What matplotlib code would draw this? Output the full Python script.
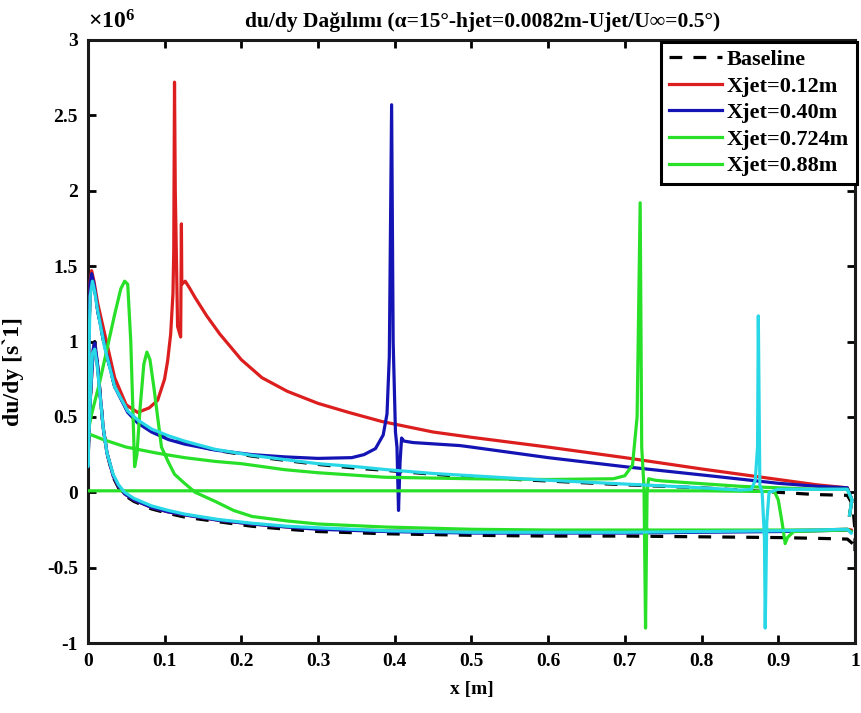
import matplotlib
matplotlib.use("Agg")
import matplotlib.pyplot as plt
from matplotlib.ticker import FuncFormatter, FixedLocator

plt.rcParams['font.family'] = ['Liberation Serif', 'DejaVu Serif']
plt.rcParams['font.weight'] = 'bold'
plt.rcParams['mathtext.fontset'] = 'custom'
plt.rcParams['mathtext.rm'] = 'Liberation Serif'
plt.rcParams['mathtext.default'] = 'rm'

SCALE = 1e6  # du/dy values below are in units of 1e6 s^-1

# ---- Baseline (no jet) ----
base_up_x = [0.0, 0.001, 0.003, 0.005, 0.008, 0.013, 0.022, 0.035, 0.052, 0.065, 0.083, 0.105,
             0.126, 0.166, 0.214, 0.26, 0.30, 0.35, 0.39, 0.45, 0.5, 0.6, 0.7, 0.8, 0.9, 0.95,
             0.99, 0.997, 1.0, 1.0]
base_up_y = [0.17, 0.9, 1.38, 1.45, 1.38, 1.2, 0.96, 0.70, 0.54, 0.47, 0.41, 0.365,
             0.33, 0.28, 0.24, 0.21, 0.185, 0.16, 0.145, 0.12, 0.10, 0.075, 0.05, 0.03, 0.0, -0.015,
             -0.02, -0.08, -0.25, -0.39]
base_lo_x = [0.0, 0.003, 0.007, 0.009, 0.012, 0.016, 0.020, 0.025, 0.033, 0.040, 0.048, 0.06,
             0.083, 0.105, 0.127, 0.17, 0.214, 0.26, 0.30, 0.39, 0.5, 0.6, 0.7, 0.8, 0.9, 0.95,
             0.99, 0.997]
base_lo_y = [0.17, 0.6, 0.95, 1.0, 0.88, 0.66, 0.43, 0.26, 0.10, 0.03, -0.02, -0.06,
             -0.11, -0.14, -0.165, -0.195, -0.225, -0.245, -0.26, -0.275, -0.285, -0.29, -0.29,
             -0.295, -0.30, -0.305, -0.31, -0.34]

# ---- Xjet = 0.12 m ----
r_up_x = [0.0, 0.001, 0.003, 0.005, 0.008, 0.013, 0.022, 0.035, 0.05, 0.065, 0.08, 0.091, 0.1,
          0.104, 0.108, 0.111, 0.112, 0.113, 0.114, 0.117, 0.121, 0.122, 0.1225, 0.127, 0.132,
          0.14, 0.155, 0.172, 0.2, 0.227, 0.26, 0.30, 0.34, 0.383, 0.45, 0.5, 0.6, 0.7, 0.8,
          0.9, 0.95, 0.99, 0.996, 0.993]
r_up_y = [0.17, 0.9, 1.4, 1.47, 1.40, 1.25, 1.05, 0.76, 0.58, 0.53, 0.56, 0.61, 0.75,
          0.87, 1.05, 1.32, 1.6, 2.72, 2.0, 1.1, 1.03, 1.78, 1.38, 1.40, 1.36,
          1.29, 1.17, 1.05, 0.88, 0.76, 0.67, 0.59, 0.53, 0.47, 0.40, 0.365, 0.30, 0.23, 0.155,
          0.085, 0.05, 0.03, -0.05, -0.15]
r_lo_x = [0.0, 0.003, 0.007, 0.009, 0.012, 0.016, 0.020, 0.025, 0.033, 0.040, 0.048, 0.06,
          0.083, 0.105, 0.127, 0.17, 0.214, 0.26, 0.30, 0.39, 0.5, 0.6, 0.7, 0.8, 0.9, 0.95,
          0.99, 0.995]
r_lo_y = [0.17, 0.6, 0.94, 0.98, 0.87, 0.65, 0.43, 0.26, 0.11, 0.04, -0.01, -0.05,
          -0.10, -0.13, -0.15, -0.185, -0.21, -0.23, -0.24, -0.255, -0.265, -0.265, -0.265,
          -0.26, -0.255, -0.25, -0.245, -0.25]

# ---- Xjet = 0.40 m ----
b_up_x = [0.0, 0.001, 0.003, 0.005, 0.008, 0.013, 0.022, 0.035, 0.052, 0.065, 0.083, 0.105,
          0.126, 0.166, 0.214, 0.257, 0.30, 0.344, 0.36, 0.375, 0.385, 0.39, 0.393, 0.396,
          0.398, 0.401, 0.403, 0.405, 0.407, 0.409, 0.412, 0.424, 0.485, 0.5, 0.6, 0.7, 0.81,
          0.9, 0.95, 0.99, 0.996, 0.993]
b_up_y = [0.17, 0.9, 1.38, 1.45, 1.38, 1.2, 0.97, 0.70, 0.53, 0.46, 0.40, 0.35,
          0.32, 0.28, 0.25, 0.235, 0.225, 0.23, 0.25, 0.29, 0.38, 0.52, 0.9, 2.57,
          1.0, 0.4, 0.3, -0.12, 0.2, 0.36, 0.34, 0.33, 0.31, 0.30, 0.23, 0.17, 0.11,
          0.06, 0.04, 0.03, -0.05, -0.15]
b_lo_x = [0.0, 0.003, 0.007, 0.009, 0.012, 0.016, 0.020, 0.025, 0.033, 0.040, 0.048, 0.06,
          0.083, 0.105, 0.127, 0.17, 0.214, 0.26, 0.30, 0.39, 0.5, 0.6, 0.7, 0.8, 0.9, 0.95,
          0.99, 0.995]
b_lo_y = [0.17, 0.6, 0.95, 0.99, 0.88, 0.65, 0.43, 0.26, 0.11, 0.04, -0.01, -0.05,
          -0.10, -0.13, -0.15, -0.185, -0.21, -0.23, -0.245, -0.26, -0.27, -0.27, -0.27,
          -0.265, -0.26, -0.255, -0.25, -0.26]

# ---- Xjet = 0.724 m ----
g1_up_x = [0.0, 0.02, 0.05, 0.09, 0.126, 0.166, 0.2, 0.257, 0.3, 0.387, 0.5, 0.6, 0.685,
           0.70, 0.71, 0.716, 0.72, 0.722, 0.725, 0.727, 0.729, 0.731, 0.74, 0.75, 0.85,
           0.95, 0.99, 0.996, 0.993]
g1_up_y = [0.39, 0.35, 0.30, 0.26, 0.23, 0.205, 0.19, 0.15, 0.13, 0.10, 0.09, 0.085, 0.09,
           0.11, 0.18, 0.5, 1.92, 0.3, 0.03, -0.9, 0.0, 0.09, 0.08, 0.075, 0.04,
           0.02, 0.02, -0.05, -0.15]
g1_lo_x = [0.0, 0.005, 0.015, 0.025, 0.035, 0.043, 0.048, 0.052, 0.056, 0.059, 0.061, 0.064,
           0.068, 0.073, 0.077, 0.081, 0.086, 0.091, 0.096, 0.105, 0.113, 0.126, 0.14, 0.166,
           0.19, 0.214, 0.26, 0.30, 0.387, 0.5, 0.6, 0.7, 0.8, 0.9, 0.95, 0.99, 0.995]
g1_lo_y = [0.39, 0.52, 0.72, 0.95, 1.18, 1.35, 1.40, 1.38, 1.0, 0.5, 0.17, 0.25,
           0.55, 0.85, 0.93, 0.88, 0.7, 0.5, 0.30, 0.2, 0.12, 0.06, 0.0, -0.06,
           -0.12, -0.16, -0.19, -0.21, -0.23, -0.245, -0.25, -0.25, -0.25, -0.25, -0.25,
           -0.245, -0.26]

# ---- Xjet = 0.88 m ----
g2_x = [0.0, 0.2, 0.4, 0.6, 0.8, 0.895, 0.90, 0.905, 0.909, 0.912, 0.92, 0.95, 0.99]
g2_y = [0.01, 0.01, 0.01, 0.01, 0.01, 0.005, -0.05, -0.2, -0.34, -0.30, -0.26, -0.255, -0.25]

# ---- jet case drawn in cyan ----
c_up_x = [0.0, 0.001, 0.003, 0.006, 0.009, 0.013, 0.022, 0.035, 0.052, 0.065, 0.083, 0.105,
          0.126, 0.166, 0.214, 0.26, 0.30, 0.35, 0.39, 0.45, 0.5, 0.6, 0.7, 0.8, 0.85, 0.865,
          0.870, 0.873, 0.874, 0.876, 0.879, 0.882, 0.883, 0.885, 0.888, 0.9, 0.95, 0.99,
          0.996, 0.993]
c_up_y = [0.17, 0.8, 1.3, 1.40, 1.33, 1.2, 0.96, 0.70, 0.54, 0.48, 0.42, 0.375,
          0.34, 0.285, 0.245, 0.215, 0.19, 0.17, 0.15, 0.125, 0.11, 0.08, 0.055, 0.03, 0.015,
          0.02, 0.08, 0.3, 1.17, 0.05, 0.0, -0.3, -0.90, -0.2, 0.0, 0.02, 0.02, 0.02,
          -0.05, -0.15]
c_lo_x = [0.0, 0.003, 0.006, 0.009, 0.012, 0.016, 0.020, 0.025, 0.033, 0.04, 0.048, 0.06,
          0.083, 0.105, 0.127, 0.17, 0.214, 0.26, 0.30, 0.39, 0.5, 0.6, 0.7, 0.8, 0.9, 0.95,
          0.99, 0.995]
c_lo_y = [0.17, 0.6, 0.92, 0.95, 0.85, 0.64, 0.43, 0.26, 0.12, 0.05, 0.0, -0.04,
          -0.09, -0.12, -0.145, -0.18, -0.205, -0.225, -0.235, -0.255, -0.265, -0.265, -0.265,
          -0.26, -0.255, -0.25, -0.245, -0.27]

labels = ['Baseline', 'Xjet=0.12m', 'Xjet=0.40m', 'Xjet=0.724m', 'Xjet=0.88m']
C_RED, C_BLUE, C_GREEN, C_CYAN = '#dc1e1e', '#1414b4', '#28e028', '#28d8e6'


def loop(ux, uy, lx, ly):
    """Closed surface trace: upper surface from TE to LE, then lower surface LE to TE."""
    xs = list(reversed(ux)) + list(lx)
    ys = [v * SCALE for v in reversed(uy)] + [v * SCALE for v in ly]
    return xs, ys


fig = plt.figure(figsize=(8.61, 7.13), dpi=100)
ax = fig.add_axes([0.102, 0.098, 0.891, 0.846])

lw = 2.3
x, y = loop(base_up_x, base_up_y, base_lo_x, base_lo_y)
ax.plot(x, y, color='black', lw=lw, dashes=(4, 3.5), label=labels[0], zorder=2)
x, y = loop(r_up_x, r_up_y, r_lo_x, r_lo_y)
ax.plot(x, y, color=C_RED, lw=lw, label=labels[1], zorder=3)
x, y = loop(b_up_x, b_up_y, b_lo_x, b_lo_y)
ax.plot(x, y, color=C_BLUE, lw=lw, label=labels[2], zorder=4)
x, y = loop(g1_up_x, g1_up_y, g1_lo_x, g1_lo_y)
ax.plot(x, y, color=C_GREEN, lw=lw, label=labels[3], zorder=5)
ax.plot(g2_x, [v * SCALE for v in g2_y], color=C_GREEN, lw=lw, label=labels[4], zorder=5)
x, y = loop(c_up_x, c_up_y, c_lo_x, c_lo_y)
ax.plot(x, y, color=C_CYAN, lw=lw, zorder=6)

ax.set_xlim(0, 1)
ax.set_ylim(-1 * SCALE, 3 * SCALE)
ax.xaxis.set_major_locator(FixedLocator([i / 10 for i in range(11)]))
ax.yaxis.set_major_locator(FixedLocator([v * SCALE for v in [-1, -0.5, 0, 0.5, 1, 1.5, 2, 2.5, 3]]))
ax.xaxis.set_major_formatter(FuncFormatter(lambda v, p: '%g' % round(v, 2)))
ax.yaxis.set_major_formatter(FuncFormatter(lambda v, p: '%g' % (v / SCALE)))
ax.tick_params(direction='in', length=6, width=2, top=True, right=True,
               labelsize=14, pad=7)
for lab in ax.get_xticklabels() + ax.get_yticklabels():
    lab.set_fontweight('bold')
for s in ax.spines.values():
    s.set_linewidth(2.2)
    s.set_color('#1a1a1a')

ax.text(0.0, 1.01, r'$\times10^{6}$', transform=ax.transAxes, ha='left', va='bottom',
        fontsize=17, fontweight='normal')
ax.set_title('du/dy Dağılımı (α=15°-hjet=0.0082m-Ujet/U∞=0.5°)', fontsize=15.5,
             fontweight='bold', pad=9, x=0.514)
ax.set_xlabel('x [m]', fontsize=14, fontweight='bold', labelpad=8)
ax.set_ylabel('du/dy [s`1]', fontsize=17, fontweight='bold', labelpad=8)
ax.yaxis.set_label_coords(-0.083, 0.45)

leg = ax.legend(loc='upper right', bbox_to_anchor=(1.002, 0.997), borderaxespad=0.0,
                fontsize=16, handlelength=2.4, handletextpad=0.2, labelspacing=0.27,
                borderpad=0.35, fancybox=False, framealpha=1, edgecolor='black')
leg.get_frame().set_linewidth(2.2)
for t in leg.get_texts():
    t.set_fontweight('bold')

fig.savefig('out.png', dpi=100)
